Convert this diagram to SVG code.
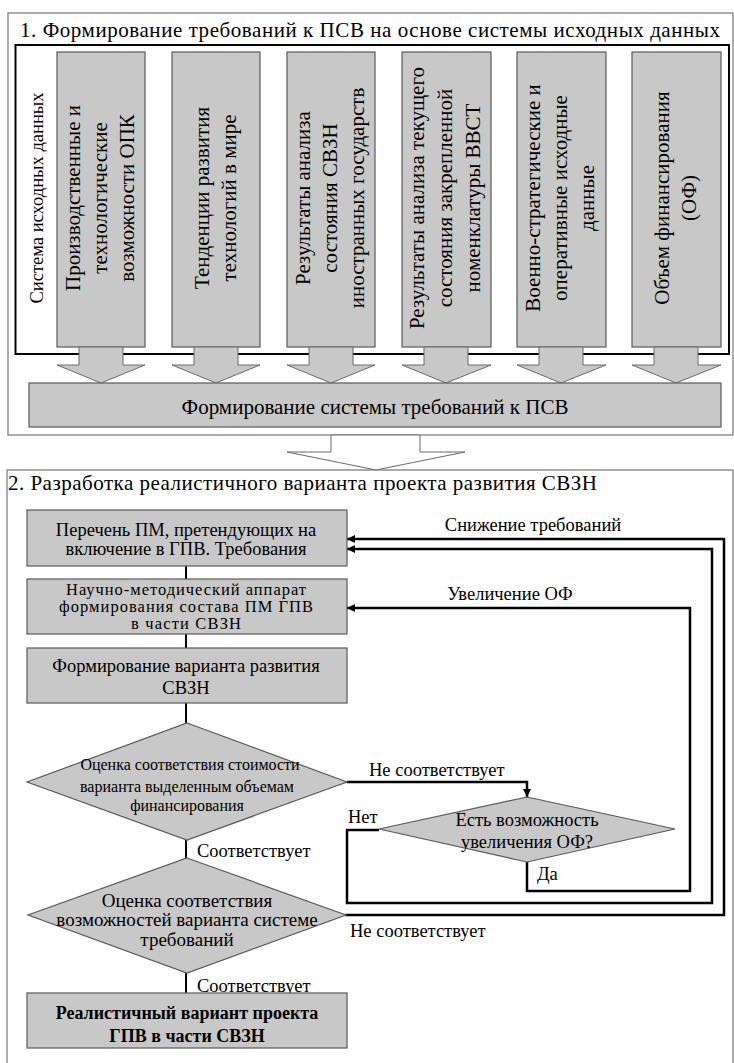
<svg xmlns="http://www.w3.org/2000/svg" width="734" height="1063" viewBox="0 0 734 1063">
<style>
text{font-family:Liberation Serif,Tinos,Times New Roman,Times,Noto Serif,DejaVu Serif,serif;fill:#000}
.t21{font-size:21px}
.t19{font-size:19px}
.t18{font-size:18.5px}
.t165{font-size:16.5px}
.t16{font-size:16px}
.bb{font-size:18px;font-weight:bold}
.m{text-anchor:middle}
.sec{fill:#fff;stroke:#808080;stroke-width:1.3}
.inner{fill:#fff;stroke:#000;stroke-width:2}
.g{fill:#c8c8c8;stroke:#5a5a5a;stroke-width:1.2}
.ga{fill:#c8c8c8;stroke:#6a6a6a;stroke-width:1}
.wa{fill:#fff;stroke:#6a6a6a;stroke-width:1}
.ln{fill:none;stroke:#000;stroke-width:2}
.lp{fill:none;stroke:#000;stroke-width:2.5}
</style>
<defs>
<marker id="ah" viewBox="0 0 10 10" refX="10" refY="5" markerWidth="10" markerHeight="8" markerUnits="userSpaceOnUse" orient="auto">
<path d="M0,0 L10,5 L0,10 z" fill="#000"/>
</marker>
</defs>

<g id="section1">
<rect class="sec" x="8" y="13" width="725" height="422"/>
<text class="t21" x="20" y="37" textLength="700" lengthAdjust="spacing">1. Формирование требований к ПСВ на основе системы исходных данных</text>
<rect class="inner" x="15.5" y="45" width="713.5" height="309"/>
<text class="t18 m" transform="translate(43,198) rotate(-90)">Система исходных данных</text>
</g>

<g id="col1">
<rect class="g" x="57" y="52" width="88" height="295"/>
<text class="t21 m" transform="translate(101,198) rotate(-90)"><tspan x="0" y="-21">Производственные и</tspan><tspan x="0" y="6">технологические</tspan><tspan x="0" y="33">возможности ОПК</tspan></text>
</g>
<g id="col2">
<rect class="g" x="172" y="52" width="88" height="295"/>
<text class="t21 m" transform="translate(216,198) rotate(-90)"><tspan x="0" y="-7.5">Тенденции развития</tspan><tspan x="0" y="19.5">технологий в мире</tspan></text>
</g>
<g id="col3">
<rect class="g" x="287" y="52" width="88" height="295"/>
<text class="t21 m" transform="translate(331,198) rotate(-90)"><tspan x="0" y="-21">Результаты анализа</tspan><tspan x="0" y="6">состояния СВЗН</tspan><tspan x="0" y="33">иностранных государств</tspan></text>
</g>
<g id="col4">
<rect class="g" x="402" y="52" width="89" height="295"/>
<text class="t21 m" transform="translate(446,198) rotate(-90)"><tspan x="0" y="-22">Результаты анализа текущего</tspan><tspan x="0" y="6">состояния закрепленной</tspan><tspan x="0" y="34">номенклатуры ВВСТ</tspan></text>
</g>
<g id="col5">
<rect class="g" x="517" y="52" width="89" height="295"/>
<text class="t21 m" transform="translate(561,198) rotate(-90)"><tspan x="0" y="-21">Военно-стратегические и</tspan><tspan x="0" y="6">оперативные исходные</tspan><tspan x="0" y="33">данные</tspan></text>
</g>
<g id="col6">
<rect class="g" x="632" y="52" width="89" height="295"/>
<text class="t21 m" transform="translate(676,198) rotate(-90)"><tspan x="0" y="-7.5">Объем финансирования</tspan><tspan x="0" y="19.5">(ОФ)</tspan></text>
</g>

<g id="blockarrows">
<path class="ga" d="M79,347 H123 V365 H145 L101,383 L57,365 H79 Z"/>
<path class="ga" d="M194,347 H238 V365 H260 L216,383 L172,365 H194 Z"/>
<path class="ga" d="M309,347 H353 V365 H375 L331,383 L287,365 H309 Z"/>
<path class="ga" d="M424,347 H468 V365 H491 L446,383 L402,365 H424 Z"/>
<path class="ga" d="M539,347 H583 V365 H606 L561,383 L517,365 H539 Z"/>
<path class="ga" d="M654,347 H698 V365 H721 L676,383 L632,365 H654 Z"/>
</g>

<g id="bar">
<rect class="g" x="29" y="383" width="692" height="44"/>
<text class="t21 m" x="375" y="414">Формирование системы требований к ПСВ</text>
</g>

<g id="section2">
<rect class="sec" x="7" y="470" width="726" height="600"/>
<text class="t21" x="8" y="490" textLength="589" lengthAdjust="spacing">2. Разработка реалистичного варианта проекта развития СВЗН</text>
</g>

<g id="bigarrow">
<path class="wa" d="M331,435 H420 V452 H465 L376,470 L287,452 H331 Z"/>
</g>

<g id="connectors">
<path class="ln" d="M186,566 V579"/>
<path class="ln" d="M186,634 V648"/>
<path class="ln" d="M186,703 V723"/>
<path class="ln" d="M186,840 V858"/>
<path class="ln" d="M186,973 V993"/>
<path class="lp" d="M347,782 H527 V797" marker-end="url(#ah)"/>
<path class="lp" d="M345,915 H724 V539 H347" marker-end="url(#ah)"/>
<path class="lp" d="M379,830 H347 V903 H712 V549 H347" marker-end="url(#ah)"/>
<path class="lp" d="M527,862 V891 H690 V608 H347" marker-end="url(#ah)"/>
<text class="t18 m" x="533" y="531">Снижение требований</text>
<text class="t18 m" x="510" y="600">Увеличение ОФ</text>
<text class="t18" x="369" y="776">Не соответствует</text>
<text class="t18" x="348" y="823">Нет</text>
<text class="t18" x="537" y="880">Да</text>
<text class="t18" x="197" y="857">Соответствует</text>
<text class="t18" x="350" y="937">Не соответствует</text>
<text class="t18" x="197" y="992">Соответствует</text>
</g>

<g id="box1">
<rect class="g" x="27" y="510" width="320" height="56"/>
<text class="t18 m" x="186" y="536">Перечень ПМ, претендующих на</text>
<text class="t18 m" x="186" y="555">включение в ГПВ. Требования</text>
</g>
<g id="box2">
<rect class="g" x="27" y="579" width="320" height="55"/>
<text class="t165 m" x="186" y="595" textLength="240" lengthAdjust="spacing">Научно-методический аппарат</text>
<text class="t165 m" x="186" y="612" textLength="254" lengthAdjust="spacing">формирования состава ПМ ГПВ</text>
<text class="t165 m" x="186" y="629" textLength="110" lengthAdjust="spacing">в части СВЗН</text>
</g>
<g id="box3">
<rect class="g" x="27" y="648" width="320" height="55"/>
<text class="t18 m" x="186" y="672">Формирование варианта развития</text>
<text class="t18 m" x="186" y="694">СВЗН</text>
</g>
<g id="diamond1">
<path class="g" d="M187,723 L347,782 L187,840 L27,782 Z"/>
<text class="t16 m" x="190" y="770">Оценка соответствия стоимости</text>
<text class="t16 m" x="187" y="792">варианта выделенным объемам</text>
<text class="t16 m" x="187" y="811">финансирования</text>
</g>
<g id="diamond2">
<path class="g" d="M187,858 L346,915 L187,973 L28,915 Z"/>
<text class="t19 m" x="187" y="907">Оценка соответствия</text>
<text class="t19 m" x="187" y="926">возможностей варианта системе</text>
<text class="t19 m" x="187" y="946">требований</text>
</g>
<g id="diamond3">
<path class="g" d="M527,797 L675,829 L527,862 L379,829 Z"/>
<text class="t18 m" x="527" y="826">Есть возможность</text>
<text class="t18 m" x="527" y="848">увеличения ОФ?</text>
</g>
<g id="box4">
<rect class="g" x="27" y="993" width="320" height="55"/>
<text class="bb m" x="187" y="1019">Реалистичный вариант проекта</text>
<text class="bb m" x="187" y="1042">ГПВ в части СВЗН</text>
</g>
</svg>
